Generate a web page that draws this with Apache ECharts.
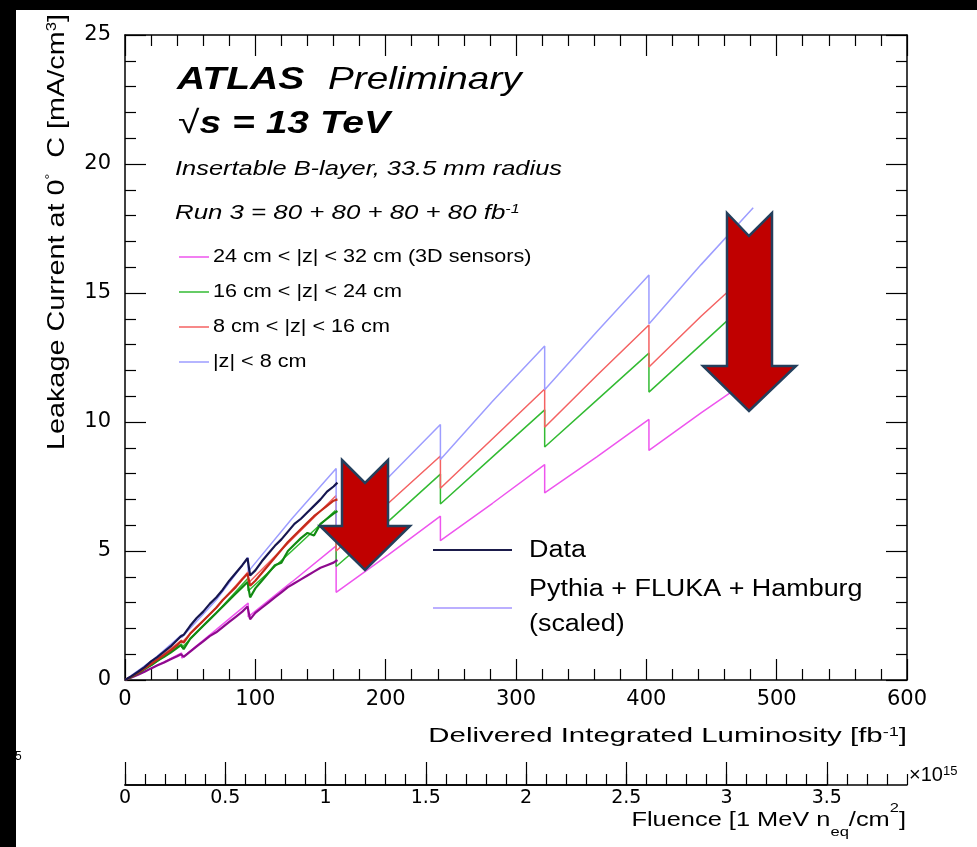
<!DOCTYPE html>
<html>
  <head>
    <meta charset="utf-8" />
    <script src="https://cdn.jsdelivr.net/npm/echarts@6.0.0/dist/echarts.min.js"></script>
    <style>
      html, body { margin: 0; padding: 0; background: #000; }
    </style>
  </head>
  <body>
    <div id="main" style="width: 977px; height: 847px"></div>

    <script type="text/javascript">
      // simulation (Pythia + FLUKA + Hamburg, scaled), x = delivered luminosity [fb-1]
      // repeated x values are the annealing drops
      var simLumi    = [0, 22, 43.5, 43.5, 70, 94.5, 94.5, 128, 162, 162, 202, 242, 242, 282, 322, 322, 362, 402, 402, 442, 482];
      var simZ24to32 = [0, 0.5, 1.05, 0.85, 1.95, 2.98, 2.45, 3.8, 5.2, 3.4, 4.85, 6.35, 5.4, 6.85, 8.35, 7.25, 8.65, 10.1, 8.9, 10.35, 11.75];
      var simZ16to24 = [0, 0.62, 1.4, 1.25, 2.6, 3.95, 3.45, 5.0, 6.6, 4.4, 6.15, 7.98, 6.82, 8.65, 10.47, 9.03, 10.85, 12.67, 11.16, 13.0, 14.85];
      var simZ8to16  = [0, 0.7, 1.55, 1.45, 2.8, 4.2, 3.75, 5.45, 7.15, 5.0, 6.85, 8.68, 7.43, 9.35, 11.28, 9.8, 11.8, 13.76, 12.13, 14.1, 15.95];
      var simZ0to8   = [0, 0.8, 1.75, 1.65, 3.1, 4.75, 4.2, 6.25, 8.2, 5.75, 7.85, 9.9, 8.55, 10.8, 12.95, 11.25, 13.5, 15.7, 13.8, 16.1, 18.3];

      // measured leakage current, Run 2
      var dataLumi    = [0, 5, 10, 15, 20, 25, 30, 35, 40, 43, 45, 50, 55, 60, 65, 70, 75, 80, 85, 90, 94, 96, 100, 105, 110, 115, 120, 125, 130, 135, 140, 145, 150, 155, 160, 163];
      var dataZ24to32 = [0, 0.1, 0.2, 0.32, 0.45, 0.57, 0.68, 0.8, 0.92, 1.0, 0.9, 1.1, 1.3, 1.5, 1.7, 1.85, 2.05, 2.25, 2.45, 2.65, 2.85, 2.35, 2.6, 2.8, 3.0, 3.2, 3.4, 3.6, 3.75, 3.9, 4.05, 4.2, 4.35, 4.45, 4.55, 4.65];
      var dataZ16to24 = [0, 0.12, 0.26, 0.42, 0.58, 0.75, 0.9, 1.06, 1.25, 1.35, 1.2, 1.6, 1.85, 2.1, 2.35, 2.6, 2.85, 3.1, 3.35, 3.6, 3.8, 3.2, 3.55, 3.85, 4.15, 4.45, 4.55, 5.0, 5.25, 5.5, 5.7, 5.6, 6.05, 6.25, 6.45, 6.55];
      var dataZ8to16  = [0, 0.13, 0.28, 0.45, 0.62, 0.8, 0.97, 1.15, 1.35, 1.5, 1.45, 1.8, 2.05, 2.3, 2.55, 2.8, 3.1, 3.35, 3.6, 3.9, 4.12, 3.65, 3.85, 4.15, 4.45, 4.75, 5.05, 5.35, 5.6, 5.85, 6.1, 6.35, 6.55, 6.75, 6.95, 7.0];
      var dataZ0to8   = [0, 0.15, 0.32, 0.5, 0.72, 0.9, 1.1, 1.3, 1.55, 1.7, 1.75, 2.1, 2.4, 2.65, 2.95, 3.2, 3.5, 3.85, 4.15, 4.45, 4.72, 4.05, 4.25, 4.6, 4.9, 5.2, 5.45, 5.75, 6.05, 6.25, 6.5, 6.75, 7.0, 7.3, 7.5, 7.65];

      var regionNames = ['24 cm < |z| < 32 cm (3D sensors)', '16 cm < |z| < 24 cm', '8 cm < |z| < 16 cm', '|z| < 8 cm'];
      var simColors   = ['#ee55ee', '#33bb33', '#f46262', '#9d9dff'];
      var dataColors  = ['#8e0a8e', '#128a12', '#c42a1a', '#161650'];

      // fluence axis (x 10^15 1 MeV neq/cm2): 600 fb-1 <-> 3.9, labelled up to 3.5
      var fluenceMax = 3.9;
      var fluenceLabelMax = 3.5;

      function pairs(xs, ys) {
        return xs.map(function (x, i) { return [x, ys[i]]; });
      }

      var simValues = [simZ24to32, simZ16to24, simZ8to16, simZ0to8];
      var dataValues = [dataZ24to32, dataZ16to24, dataZ8to16, dataZ0to8];

      var series = [];
      simValues.forEach(function (vals, i) {
        series.push({
          name: regionNames[i],
          type: 'line',
          xAxisIndex: 0, yAxisIndex: 0,
          data: pairs(simLumi, vals),
          symbol: 'none',
          z: 2,
          lineStyle: { color: simColors[i], width: 1.5 },
          itemStyle: { color: simColors[i] }
        });
      });
      dataValues.forEach(function (vals, i) {
        series.push({
          name: 'Data ' + regionNames[i],
          type: 'line',
          xAxisIndex: 0, yAxisIndex: 0,
          data: pairs(dataLumi, vals),
          symbol: 'none',
          z: 3,
          lineStyle: { color: dataColors[i], width: 2.2 },
          itemStyle: { color: dataColors[i] }
        });
      });

      var black = '#000';
      var helv = '"Liberation Sans", Arial, sans-serif';
      var deja = '"DejaVu Sans", sans-serif';

      function txt(x, y, text, font, scaleX, align, rich) {
        return {
          type: 'text', x: x, y: y, scaleX: scaleX || 1, z: 60,
          style: {
            text: text, font: font, fill: black,
            align: align || 'left', verticalAlign: 'middle', rich: rich
          }
        };
      }
      function keyLine(x1, x2, y, color, width) {
        return { type: 'line', z: 60, shape: { x1: x1, y1: y, x2: x2, y2: y }, style: { stroke: color, lineWidth: width } };
      }
      function arrow(pts) {
        return {
          type: 'polygon', z: 80,
          shape: { points: pts },
          style: { fill: '#c00000', stroke: '#243f5c', lineWidth: 2.5, lineJoin: 'miter' }
        };
      }

      // a frame axis of the main plot; fresh objects each time
      function frameAxis(grid, pos, min, max, interval, labels) {
        return {
          gridIndex: grid, type: 'value', position: pos,
          min: min, max: max, interval: interval,
          axisLine: { show: true, lineStyle: { color: black, width: 1.5 } },
          axisTick: { inside: true, length: 21, lineStyle: { color: black, width: 1.2 } },
          minorTick: { show: true, splitNumber: 5, length: 11, lineStyle: { color: black, width: 1.2 } },
          axisLabel: labels || { show: false },
          splitLine: { show: false }
        };
      }
      // hidden partner axis whose range does not cross zero, so the frame axis stays on its side
      function partnerAxis(grid) {
        return { gridIndex: grid, type: 'value', min: 1, max: 2, show: false };
      }

      // region key (upper left)
      var keyElements = [];
      [257, 292, 327, 362].forEach(function (y, i) {
        keyElements.push(keyLine(179, 209, y, simColors[i], 1.5));
        keyElements.push(txt(213, y, regionNames[i], '18px ' + helv, 1.2));
      });

      var myChart = echarts.init(document.getElementById('main'));

      var plotRect = { left: 125, top: 35, width: 782, height: 645 };

      var option = {
        animation: false,
        backgroundColor: '#fff',
        grid: [
          plotRect,
          { left: 125, top: 784, width: 782 * fluenceLabelMax / fluenceMax, height: 1 },
          { left: 125, top: 784, width: 782, height: 1 },
          Object.assign({}, plotRect),
          Object.assign({}, plotRect)
        ],
        xAxis: [
          frameAxis(0, 'bottom', 0, 600, 100, { color: black, fontFamily: deja, fontSize: 21, margin: 9 }),
          {
            gridIndex: 1, type: 'value', position: 'bottom',
            min: 0, max: fluenceLabelMax, interval: 0.5,
            axisLine: { show: true, lineStyle: { color: black, width: 1.5 } },
            axisTick: { inside: true, length: 23, lineStyle: { color: black, width: 1.2 } },
            axisLabel: { color: black, fontFamily: deja, fontSize: 19, margin: 4 },
            splitLine: { show: false }
          },
          {
            gridIndex: 2, type: 'value', position: 'bottom',
            min: 0, max: fluenceMax, interval: 0.1,
            axisLine: { show: true, lineStyle: { color: black, width: 1.5 } },
            axisTick: { inside: true, length: 11, lineStyle: { color: black, width: 1.2 } },
            axisLabel: { show: false },
            splitLine: { show: false },
            name: '{a|×10}{s|15}',
            nameLocation: 'end',
            nameGap: 2,
            nameTextStyle: {
              verticalAlign: 'bottom',
              rich: {
                a: { fontFamily: helv, fontSize: 20, color: black },
                s: { fontFamily: helv, fontSize: 13, color: black, verticalAlign: 'top' }
              }
            }
          },
          // top frame (grid 3) and the hidden partner for the right frame (grid 4)
          frameAxis(3, 'top', 0, 600, 100, null),
          partnerAxis(4)
        ],
        yAxis: [
          frameAxis(0, 'left', 0, 25, 5, { color: black, fontFamily: deja, fontSize: 21, margin: 14 }),
          { gridIndex: 1, type: 'value', min: 0, max: 1, show: false },
          { gridIndex: 2, type: 'value', min: 0, max: 1, show: false },
          // hidden partner for the top frame (grid 3) and the right frame (grid 4)
          partnerAxis(3),
          frameAxis(4, 'right', 0, 25, 5, null)
        ],
        series: series,
        graphic: {
          elements: [
            // black frame of the screenshot
            { type: 'rect', z: 200, shape: { x: 0, y: 0, width: 977, height: 10 }, style: { fill: '#000' } },
            { type: 'rect', z: 200, shape: { x: 0, y: 0, width: 16, height: 847 }, style: { fill: '#000' } },
            txt(15, 757, '5', '12px ' + helv),

            txt(177, 80, 'ATLAS', 'italic bold 32px ' + helv, 1.22),
            txt(328, 80, 'Preliminary', 'italic 32px ' + helv, 1.21),
            txt(178, 124, '{r|√}{b|s = 13 TeV}', 'italic bold 32px ' + helv, 1.22, 'left', {
              r: { fontFamily: helv, fontSize: 32, fontWeight: 'normal' },
              b: { fontFamily: helv, fontSize: 32, fontWeight: 'bold', fontStyle: 'italic' }
            }),
            txt(175, 169, 'Insertable B-layer, 33.5 mm radius', 'italic 21px ' + helv, 1.21),
            txt(175, 213, '{t|Run 3 = 80 + 80 + 80 + 80 fb}{s|-1}', 'italic 21px ' + helv, 1.23, 'left', {
              t: { fontFamily: helv, fontSize: 21, fontStyle: 'italic' },
              s: { fontFamily: helv, fontSize: 13, fontStyle: 'italic', verticalAlign: 'top' }
            })
          ].concat(keyElements, [
            // data / simulation key
            keyLine(433, 512, 550, '#1b1b4b', 2),
            keyLine(433, 512, 608, '#a595ff', 1.5),
            txt(529, 551, 'Data', '23px ' + helv, 1.17),
            txt(529, 590, 'Pythia + FLUKA + Hamburg', '23px ' + helv, 1.17),
            txt(529, 625, '(scaled)', '23px ' + helv, 1.17),

            // axis titles
            txt(907, 736, '{t|Delivered Integrated Luminosity [fb}{s|-1}{t|]}', '21px ' + helv, 1.4, 'right', {
              t: { fontFamily: helv, fontSize: 21 },
              s: { fontFamily: helv, fontSize: 13, verticalAlign: 'top' }
            }),
            txt(906, 820, '{t|Fluence [1 MeV n}{b|eq}{t|/cm}{s|2}{t|]}', '20px ' + helv, 1.27, 'right', {
              t: { fontFamily: helv, fontSize: 20 },
              b: { fontFamily: helv, fontSize: 13, verticalAlign: 'bottom', lineHeight: 37 },
              s: { fontFamily: helv, fontSize: 13, verticalAlign: 'top' }
            }),
            {
              type: 'text', x: 57, y: 14, rotation: Math.PI / 2, scaleX: 1.2, z: 60,
              style: {
                text: '{t|Leakage Current at 0}{d|°}{t|  C [mA/cm}{s|3}{t|]}',
                font: '24px ' + helv, fill: black, align: 'right', verticalAlign: 'middle',
                rich: {
                  t: { fontFamily: helv, fontSize: 24 },
                  d: { fontFamily: helv, fontSize: 12, verticalAlign: 'top' },
                  s: { fontFamily: helv, fontSize: 14, verticalAlign: 'top' }
                }
              }
            },

            // red arrows drawn over the plot
            arrow([[342, 460], [365, 483], [388, 460], [388, 526], [410, 526], [365, 570], [320, 526], [342, 526]]),
            arrow([[727, 213], [749, 236], [772, 213], [772, 366], [796, 366], [749, 411], [703, 366], [727, 366]])
          ])
        }
      };

      myChart.setOption(option);
    </script>
  </body>
</html>
